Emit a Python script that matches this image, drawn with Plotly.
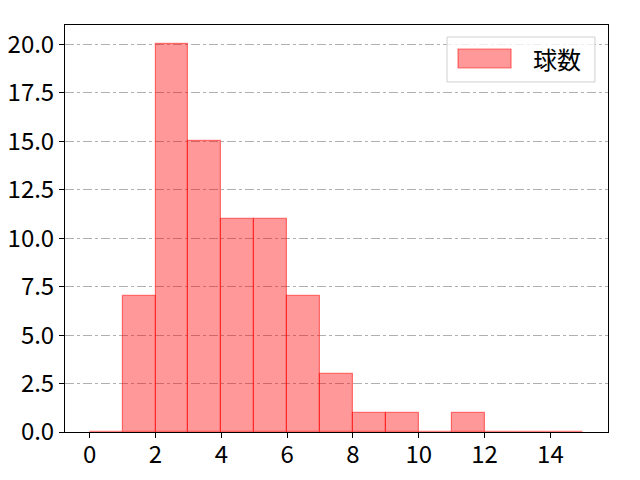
import plotly.graph_objects as go

# histogram bins (left edges, width 1) and counts
bin_left = list(range(0, 15))
counts = [0, 7, 20, 15, 11, 11, 7, 3, 1, 1, 0, 1, 0, 0, 0]
x_ticks = [0, 2, 4, 6, 8, 10, 12, 14]
y_ticks = [0.0, 2.5, 5.0, 7.5, 10.0, 12.5, 15.0, 17.5, 20.0]
series_name = "球数"

centers = [b + 0.5 for b in bin_left]
fill = "rgba(255,0,0,0.4)"
edge = "rgba(255,0,0,0.5)"

fig = go.Figure()
fig.add_trace(
    go.Bar(
        x=centers,
        y=counts,
        width=1,
        name=series_name,
        marker={"color": fill, "line": {"color": edge, "width": 1.2}},
    )
)

# matplotlib-like legend box drawn by hand (wide patch)
fig.add_shape(type="rect", xref="paper", yref="paper",
              x0=0.7035, x1=0.976, y0=0.86, y1=0.9705,
              line={"color": "#d0d0d0", "width": 1}, fillcolor="rgba(255,255,255,0.8)")
fig.add_shape(type="rect", xref="paper", yref="paper",
              x0=0.7238, x1=0.8214, y0=0.8943, y1=0.941,
              line={"color": edge, "width": 1.2}, fillcolor=fill)
fig.add_annotation(xref="paper", yref="paper", x=0.906, y=0.9165,
                   text=series_name, showarrow=False,
                   font={"size": 24}, xanchor="center", yanchor="middle")

# page shows the figure with an 8px offset, so size it to 632x472
fig.update_layout(
    width=632,
    height=472,
    margin={"l": 57, "r": 32, "t": 17, "b": 48, "autoexpand": False},
    plot_bgcolor="white",
    paper_bgcolor="white",
    font={"family": "Noto Sans CJK JP", "size": 24, "color": "black"},
    bargap=0,
    showlegend=False,
)
fig.update_xaxes(
    range=[-0.75, 15.75],
    tickvals=x_ticks,
    ticks="outside",
    ticklen=5,
    tickcolor="black",
    ticklabelstandoff=-4,
    showgrid=False,
    zeroline=False,
    showline=True,
    linecolor="black",
    linewidth=1,
    mirror=True,
    automargin=False,
)
fig.update_yaxes(
    range=[0, 21],
    tickvals=y_ticks,
    ticktext=[f"{v:.1f}" for v in y_ticks],
    ticks="outside",
    ticklen=5,
    tickcolor="black",
    showgrid=True,
    gridcolor="#b0b0b0",
    griddash="dashdot",
    gridwidth=1,
    zeroline=False,
    showline=True,
    linecolor="black",
    linewidth=1,
    mirror=True,
    automargin=False,
)
fig.write_html("out.html")
